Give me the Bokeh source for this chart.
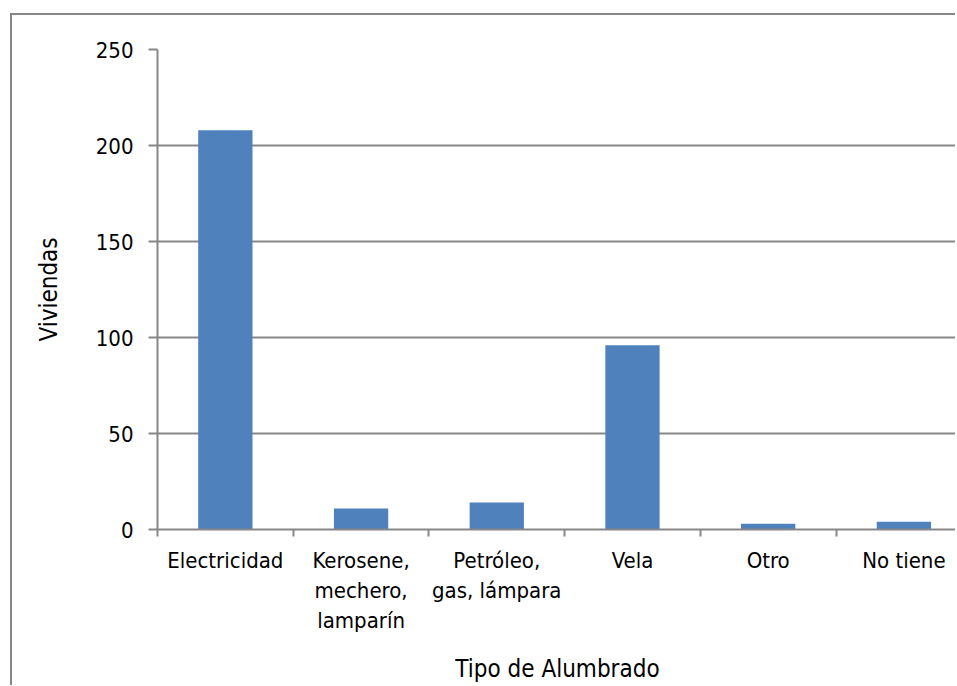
from bokeh.plotting import figure
from bokeh.models import Range1d, FixedTicker
from bokeh.embed import file_html
from bokeh.resources import INLINE

# Viviendas por tipo de alumbrado
categories = ["Electricidad", "Kerosene, mechero, lamparín", "Petróleo, gas, lámpara",
              "Vela", "Otro", "No tiene"]
tick_labels = ["Electricidad", "Kerosene,\nmechero,\nlamparín", "Petróleo,\ngas, lámpara",
               "Vela", "Otro", "No tiene"]
viviendas = [208, 11, 14, 96, 3, 4]
y_ticks = [0, 50, 100, 150, 200, 250]

FONT = "DejaVu Sans Condensed"
GRID = "#878787"
BAR = "#4F81BD"

centers = [i + 0.5 for i in range(len(categories))]
bounds = list(range(len(categories) + 1))

p = figure(width=945, height=672, output_backend="svg", toolbar_location=None,
           x_range=Range1d(0, 5.895), y_range=Range1d(0, 250),
           min_border_left=145, min_border_top=34, min_border_right=0,
           min_border_bottom=158)
p.margin = (13, 0, 0, 10)
p.styles = {"border-left": f"2px solid {GRID}", "border-top": f"2px solid {GRID}"}
p.outline_line_color = None
p.background_fill_color = "white"
p.border_fill_color = "white"

p.vbar(x=centers, top=viviendas, width=0.4, fill_color=BAR, line_color=None)

# axis x: labels at category centres, tick marks at category boundaries
xa = p.xaxis[0]
xa.ticker = FixedTicker(ticks=centers, minor_ticks=bounds)
xa.major_label_overrides = {c: t for c, t in zip(centers, tick_labels)}
xa.major_tick_out = 0
xa.major_tick_in = 0
xa.minor_tick_out = 7
xa.minor_tick_in = 0
xa.minor_tick_line_color = GRID
xa.minor_tick_line_width = 2
xa.axis_line_color = GRID
xa.axis_line_width = 2
xa.major_label_standoff = 11
xa.major_label_text_font = FONT
xa.major_label_text_font_size = "22px"
xa.major_label_text_color = "black"
xa.axis_label = "Tipo de Alumbrado"
xa.axis_label_text_font = FONT
xa.axis_label_text_font_size = "24px"
xa.axis_label_text_font_style = "normal"
xa.axis_label_text_color = "black"
xa.axis_label_standoff = 19

ya = p.yaxis[0]
ya.ticker = FixedTicker(ticks=y_ticks)
ya.major_tick_out = 9
ya.major_tick_in = 0
ya.minor_tick_out = 0
ya.minor_tick_in = 0
ya.major_tick_line_color = GRID
ya.major_tick_line_width = 2
ya.axis_line_color = GRID
ya.axis_line_width = 2
ya.major_label_standoff = 15
ya.major_label_text_font = FONT
ya.major_label_text_font_size = "22px"
ya.major_label_text_color = "black"
ya.axis_label = "Viviendas"
ya.axis_label_text_font = FONT
ya.axis_label_text_font_size = "24px"
ya.axis_label_text_font_style = "normal"
ya.axis_label_text_color = "black"
ya.axis_label_standoff = 30

p.xgrid.grid_line_color = None
p.ygrid.ticker = FixedTicker(ticks=y_ticks)
p.ygrid.grid_line_color = GRID
p.ygrid.grid_line_width = 2

open("out.html", "w").write(file_html(p, INLINE))
